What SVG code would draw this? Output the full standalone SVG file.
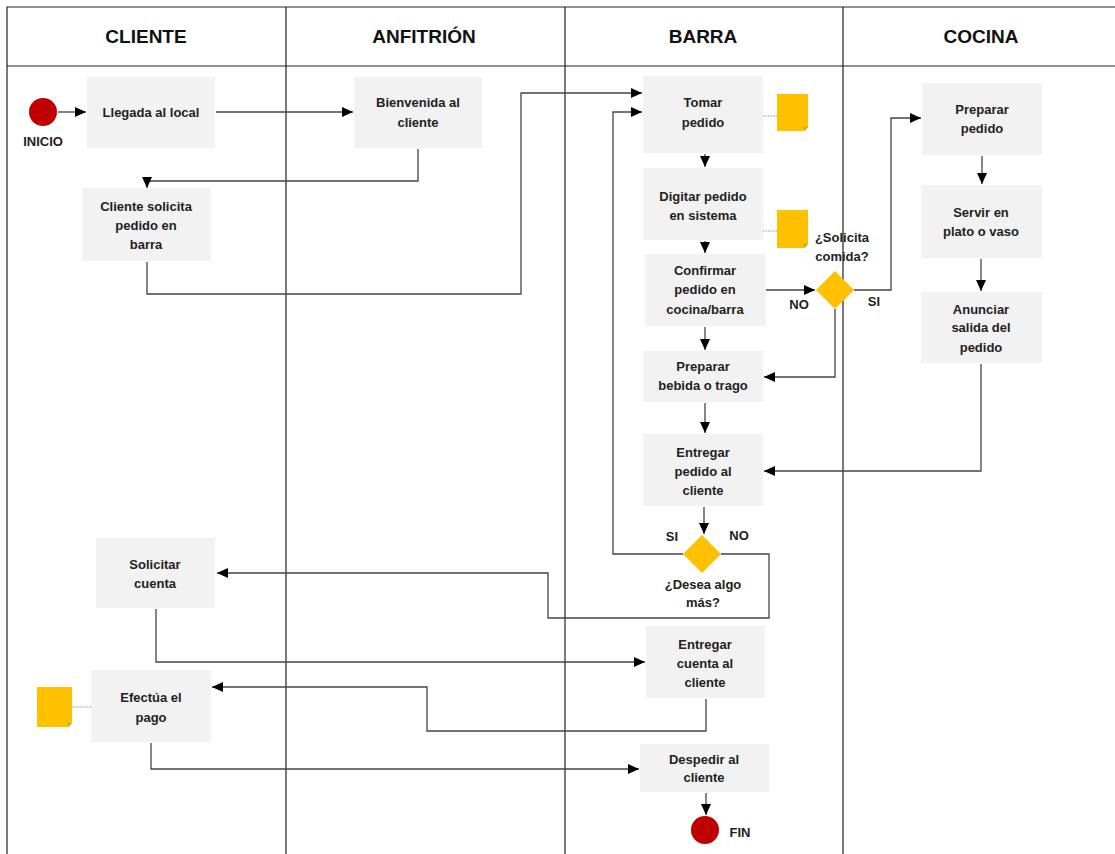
<svg xmlns="http://www.w3.org/2000/svg" width="1115" height="854" viewBox="0 0 1115 854">
<style>
.lane{fill:none;stroke:#222;stroke-width:1.2}
.hdr{font-family:"Liberation Sans",Arial,sans-serif;font-weight:bold;font-size:19px;fill:#111;text-anchor:middle}
.box{fill:#F2F2F2}
.t{font-family:"Liberation Sans",Arial,sans-serif;font-weight:bold;font-size:13px;fill:#222;text-anchor:middle}
.c{fill:none;stroke:#444;stroke-width:1.3}
.note{fill:#FFC000}
.fold{fill:#D9A000}
.dot{stroke:#999;stroke-width:1.2;stroke-dasharray:1.5 1}
.dia{fill:#FFC000}
.term{fill:#C00000}
</style>
<defs>
<marker id="ah" markerUnits="userSpaceOnUse" markerWidth="12" markerHeight="10" refX="11" refY="5" orient="auto">
<path d="M0,0 L11,5 L0,10 z" fill="#000"/>
</marker>
</defs>
<rect width="1115" height="854" fill="#fff"/>
<g id="lanes">
<path class="lane" d="M7,854 V7 H1115 M7,66 H1115 M286,7 V854 M565,7 V854 M843,7 V854"/>
<text class="hdr" x="146" y="43">CLIENTE</text>
<text class="hdr" x="424" y="43">ANFITRIÓN</text>
<text class="hdr" x="703" y="43">BARRA</text>
<text class="hdr" x="981" y="43">COCINA</text>
</g>
<g id="connectors">
<path class="c" d="M58,112 H86" marker-end="url(#ah)"/>
<path class="c" d="M216,112 H353" marker-end="url(#ah)"/>
<path class="c" d="M418,149 V181 H147 V188" marker-end="url(#ah)"/>
<path class="c" d="M147,262 V294 H521 V93 H642" marker-end="url(#ah)"/>
<path class="c" d="M705,154 V167" marker-end="url(#ah)"/>
<path class="c" d="M705,241 V253" marker-end="url(#ah)"/>
<path class="c" d="M766,290 H815" marker-end="url(#ah)"/>
<path class="c" d="M854,290 H891 V118 H921" marker-end="url(#ah)"/>
<path class="c" d="M835,309 V377 H764" marker-end="url(#ah)"/>
<path class="c" d="M705,327 V350" marker-end="url(#ah)"/>
<path class="c" d="M705,403 V433" marker-end="url(#ah)"/>
<path class="c" d="M982,156 V184" marker-end="url(#ah)"/>
<path class="c" d="M981,259 V291" marker-end="url(#ah)"/>
<path class="c" d="M981,364 V471 H764" marker-end="url(#ah)"/>
<path class="c" d="M704,507 V534" marker-end="url(#ah)"/>
<path class="c" d="M683,554 H613 V112 H642" marker-end="url(#ah)"/>
<path class="c" d="M721,554 H769 V618 H548 V573 H217" marker-end="url(#ah)"/>
<path class="c" d="M156,609 V662 H645" marker-end="url(#ah)"/>
<path class="c" d="M706,699 V731 H427 V687 H212" marker-end="url(#ah)"/>
<path class="c" d="M151,743 V769 H639" marker-end="url(#ah)"/>
<path class="c" d="M706,793 V815" marker-end="url(#ah)"/>
<path class="dot" d="M763,116 H777 M763,231 H777 M72,707 H91"/>
</g>
<g id="inicio">
<circle class="term" cx="43" cy="112" r="14"/>
<text class="t" x="43" y="146" font-size="12.5">INICIO</text>
</g>
<g id="llegada">
<rect class="box" x="87" y="77" width="128" height="71"/>
<text class="t" x="151" y="117">Llegada al local</text>
</g>
<g id="bienvenida">
<rect class="box" x="354" y="77" width="128" height="71"/>
<text class="t" x="418" y="107">Bienvenida al</text>
<text class="t" x="418" y="127">cliente</text>
</g>
<g id="cliente-solicita">
<rect class="box" x="82" y="188" width="129" height="73"/>
<text class="t" x="146" y="211">Cliente solicita</text>
<text class="t" x="146" y="230">pedido en</text>
<text class="t" x="146" y="249">barra</text>
</g>
<g id="tomar">
<rect class="box" x="643" y="76" width="120" height="77"/>
<text class="t" x="703" y="107">Tomar</text>
<text class="t" x="703" y="127">pedido</text>
</g>
<g id="note1">
<path class="note" d="M777,94 H808 V127 L804,131 H777 Z"/>
<path class="fold" d="M808,127 L804,131 V127 Z"/>
</g>
<g id="digitar">
<rect class="box" x="643" y="168" width="120" height="72"/>
<text class="t" x="703" y="201">Digitar pedido</text>
<text class="t" x="703" y="220">en sistema</text>
</g>
<g id="note2">
<path class="note" d="M777,210 H808 V244 L804,248 H777 Z"/>
<path class="fold" d="M808,244 L804,248 V244 Z"/>
</g>
<g id="confirmar">
<rect class="box" x="645" y="254" width="121" height="72"/>
<text class="t" x="705" y="275">Confirmar</text>
<text class="t" x="705" y="294">pedido en</text>
<text class="t" x="705" y="314">cocina/barra</text>
</g>
<g id="solicita-comida">
<path class="dia" d="M835,271 L854,290 L835,309 L816,290 Z"/>
<text class="t" x="842" y="242">¿Solicita</text>
<text class="t" x="842" y="261">comida?</text>
<text class="t" x="799" y="309">NO</text>
<text class="t" x="874" y="306">SI</text>
</g>
<g id="preparar-bebida">
<rect class="box" x="643" y="351" width="120" height="51"/>
<text class="t" x="703" y="371">Preparar</text>
<text class="t" x="703" y="390">bebida o trago</text>
</g>
<g id="entregar-pedido">
<rect class="box" x="643" y="434" width="120" height="72"/>
<text class="t" x="703" y="457">Entregar</text>
<text class="t" x="703" y="476">pedido al</text>
<text class="t" x="703" y="495">cliente</text>
</g>
<g id="preparar-pedido">
<rect class="box" x="922" y="83" width="120" height="72"/>
<text class="t" x="982" y="114">Preparar</text>
<text class="t" x="982" y="133">pedido</text>
</g>
<g id="servir">
<rect class="box" x="921" y="185" width="121" height="73"/>
<text class="t" x="981" y="217">Servir en</text>
<text class="t" x="981" y="236">plato o vaso</text>
</g>
<g id="anunciar">
<rect class="box" x="921" y="292" width="121" height="71"/>
<text class="t" x="981" y="314">Anunciar</text>
<text class="t" x="981" y="332">salida del</text>
<text class="t" x="981" y="352">pedido</text>
</g>
<g id="desea">
<path class="dia" d="M702,535 L721,554 L702,573 L683,554 Z"/>
<text class="t" x="672" y="541">SI</text>
<text class="t" x="739" y="540">NO</text>
<text class="t" x="703" y="589">¿Desea algo</text>
<text class="t" x="703" y="607">más?</text>
</g>
<g id="solicitar-cuenta">
<rect class="box" x="96" y="538" width="119" height="70"/>
<text class="t" x="155" y="569">Solicitar</text>
<text class="t" x="155" y="588">cuenta</text>
</g>
<g id="entregar-cuenta">
<rect class="box" x="646" y="626" width="119" height="72"/>
<text class="t" x="705" y="649">Entregar</text>
<text class="t" x="705" y="668">cuenta al</text>
<text class="t" x="705" y="687">cliente</text>
</g>
<g id="efectua">
<rect class="box" x="91" y="670" width="120" height="72"/>
<text class="t" x="151" y="702">Efectúa el</text>
<text class="t" x="151" y="722">pago</text>
</g>
<g id="note3">
<path class="note" d="M37,687 H72 V723 L68,727 H37 Z"/>
<path class="fold" d="M72,723 L68,727 V723 Z"/>
</g>
<g id="despedir">
<rect class="box" x="640" y="744" width="129" height="48"/>
<text class="t" x="704" y="764">Despedir al</text>
<text class="t" x="704" y="782">cliente</text>
</g>
<g id="fin">
<circle class="term" cx="705" cy="830" r="14"/>
<text class="t" x="740" y="837" font-size="12.5">FIN</text>
</g>
</svg>
